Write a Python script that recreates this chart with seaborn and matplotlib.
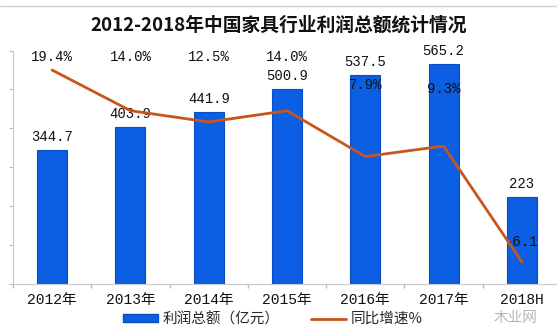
import numpy as np
import pandas as pd
import matplotlib
matplotlib.use("Agg")
import matplotlib.pyplot as plt
from matplotlib.lines import Line2D
from matplotlib.patches import Patch
import seaborn as sns

# data
years = ["2012年", "2013年", "2014年", "2015年", "2016年", "2017年", "2018H"]
profit = [344.7, 403.9, 441.9, 500.9, 537.5, 565.2, 223]
growth = [19.4, 14.0, 12.5, 14.0, 7.9, 9.3, -6.1]
title = "2012-2018年中国家具行业利润总额统计情况"
bar_name = "利润总额（亿元）"
line_name = "同比增速%"

sns.set_theme(style="white")
plt.rcParams["font.family"] = ["Noto Sans CJK SC", "DejaVu Sans"]
num_font = ["Liberation Mono", "Noto Sans CJK SC"]

BAR = "#0C5EE2"
BAR_EDGE = "#0A4EC4"
LINE = "#C8561C"

W, H = 557, 328
fig = plt.figure(figsize=(W / 100, H / 100), dpi=100)

# plot area in pixels: x 13..561, y 50.5..283.7
ax = fig.add_axes([13 / W, (H - 283.7) / H, (561 - 13) / W, (283.7 - 50.5) / H])

df = pd.DataFrame({"year": years, "profit": profit})
sns.barplot(data=df, x="year", y="profit", ax=ax, color=BAR, width=0.385,
            saturation=1, edgecolor=BAR_EDGE, linewidth=0.8)
ax.set_xlim(-0.5, 6.5)
ax.set_ylim(0, 600)
ax.set_xlabel("")
ax.set_ylabel("")
ax.set_yticks(np.arange(0, 601, 100))
ax.set_yticklabels([])
ax.tick_params(axis="y", length=3, color="#bbbbbb", left=True, width=0.8)
ax.set_xticks(np.arange(len(years)))
ax.set_xticklabels(years, family=num_font, fontsize=10.5, color="#111111")
ax.set_xticks(np.arange(-0.5, 7, 1), minor=True)
ax.tick_params(axis="x", which="major", length=0, pad=7)
ax.tick_params(axis="x", which="minor", length=3, color="#bbbbbb", bottom=True)
for s in ["top", "right"]:
    ax.spines[s].set_visible(False)
for s in ["left", "bottom"]:
    ax.spines[s].set_color("#c8c8c8")
    ax.spines[s].set_linewidth(0.8)

for i, v in enumerate(profit):
    ax.annotate(f"{v:g}", (i, v), xytext=(0, 9.5), textcoords="offset points",
                ha="center", va="center", family=num_font, fontsize=10,
                color="#111111")

# growth rate on a secondary axis
ax2 = ax.twinx()
sns.lineplot(x=np.arange(len(growth)), y=growth, ax=ax2, color=LINE,
             linewidth=2.0, solid_joinstyle="round", solid_capstyle="round")
ax2.set_ylim(-9, 22)
ax2.set_xlim(-0.5, 6.5)
ax2.axis("off")

pct_y = [0.97, 0.97, 0.97, 0.97, 0.85, 0.835, 0.18]
for i, (g, yf) in enumerate(zip(growth, pct_y)):
    label = f"{g:.1f}%" if g >= 0 else f"{g:.1f}"
    ax.annotate(label, (i, yf), xycoords=("data", "axes fraction"),
                ha="center", va="center", family=num_font, fontsize=10,
                color="#111111", zorder=5)

fig.suptitle(title, x=0.5, y=1 - 25 / H, va="center", fontsize=13.5,
             fontweight="bold", color="#111111")

handles = [Patch(facecolor=BAR, edgecolor=BAR_EDGE, label=bar_name),
           Line2D([0], [0], color=LINE, linewidth=2, label=line_name)]
fig.legend(handles=handles, loc="center", bbox_to_anchor=(0.49, 1 - 319 / H),
           ncol=2, frameon=False, fontsize=10.5, handlelength=2.4,
           handleheight=0.45, columnspacing=2.2, handletextpad=0.3,
           borderpad=0.1)

# faint top rule and watermark
fig.add_artist(Line2D([0, 1], [1 - 6 / H, 1 - 6 / H], transform=fig.transFigure,
                      color="#d0d0d0", linewidth=1))
fig.text(0.925, 1 - 318 / H, "木业网", ha="center", va="center",
         fontsize=10.5, color="#b5b5b5")

fig.savefig("out.png", dpi=100)
